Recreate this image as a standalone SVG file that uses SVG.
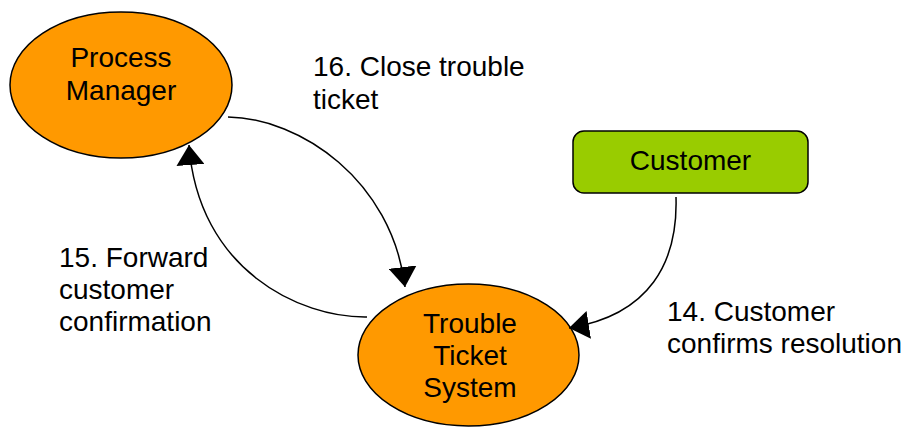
<svg xmlns="http://www.w3.org/2000/svg" width="909" height="428" viewBox="0 0 909 428">
  <defs>
    <style>
      .node-shape { stroke: #000; stroke-width: 1.5; }
      .process { fill: #FF9900; }
      .actor { fill: #99CC00; }
      .node-text { font-family: "Liberation Sans", Arial, sans-serif; font-size: 28px; fill: #000; text-anchor: middle; }
      .label { font-family: "Liberation Sans", Arial, sans-serif; font-size: 28px; fill: #000; }
      .flow { fill: none; stroke: #000; stroke-width: 1.5; marker-end: url(#arrow); }
    </style>
    <marker id="arrow" viewBox="0 0 20 28" refX="20" refY="14" markerWidth="20" markerHeight="28" markerUnits="userSpaceOnUse" orient="auto">
      <path d="M0,0 L20,14 L0,28 Z" fill="#000"/>
    </marker>
  </defs>

  <rect width="909" height="428" fill="#fff"/>

  <!-- nodes -->
  <g id="process-manager">
    <ellipse class="node-shape process" cx="121" cy="85" rx="111" ry="73"/>
    <text class="node-text" x="121" y="67">Process</text>
    <text class="node-text" x="121" y="100">Manager</text>
  </g>

  <g id="customer">
    <rect class="node-shape actor" x="573" y="131" width="235" height="62" rx="11" ry="11"/>
    <text class="node-text" x="690.5" y="170">Customer</text>
  </g>

  <g id="trouble-ticket-system">
    <ellipse class="node-shape process" cx="468.5" cy="355" rx="110.5" ry="71"/>
    <text class="node-text" x="470" y="333">Trouble</text>
    <text class="node-text" x="470" y="365">Ticket</text>
    <text class="node-text" x="470" y="397">System</text>
  </g>

  <!-- connectors -->
  <g id="connectors">
    <path class="flow" d="M228,117 C300,118 392,180 405,287"/>
    <path class="flow" d="M367,317 C300,318 198,270 189,145"/>
    <path class="flow" d="M676,197 C678,262 650,315 569,328"/>
  </g>

  <!-- connector labels -->
  <g id="labels">
    <text class="label" x="313" y="76">16. Close trouble</text>
    <text class="label" x="313" y="109">ticket</text>
    <text class="label" x="59" y="267">15. Forward</text>
    <text class="label" x="59" y="299">customer</text>
    <text class="label" x="59" y="331">confirmation</text>
    <text class="label" x="667" y="321">14. Customer</text>
    <text class="label" x="667" y="353">confirms resolution</text>
  </g>
</svg>
